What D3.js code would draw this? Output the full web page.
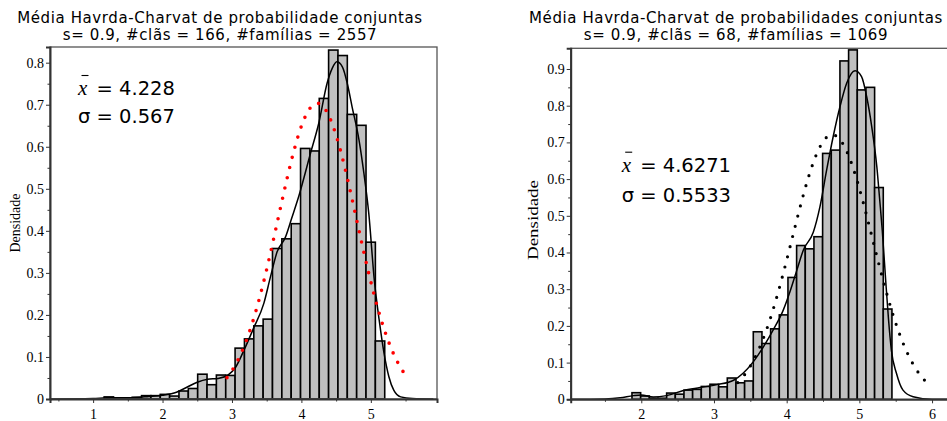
<!DOCTYPE html>
<html><head><meta charset="utf-8">
<script src="https://cdn.jsdelivr.net/npm/d3@7"></script>
<style>
  body { margin: 0; background: #fff; }
  svg { display: block; }
</style>
</head>
<body>
<svg id="fig" width="947" height="421"></svg>
<script>
// ---- Left panel: 166 clans, 2557 families ----
const leftTitle = ["Média Havrda-Charvat de probabilidade conjuntas",
                   "s= 0.9, #clãs = 166, #famílias = 2557"];
const leftBinStart = 1.159;
const leftBinWidth = 0.1347;
const leftDensities = [0.005, 0.002, 0.002, 0.004, 0.008, 0.008, 0.011, 0.007, 0.019, 0.025,
                       0.059, 0.034, 0.057, 0.056, 0.121, 0.143, 0.174, 0.190, 0.358, 0.381,
                       0.417, 0.596, 0.590, 0.715, 0.830, 0.817, 0.677, 0.651, 0.373, 0.138];
// kernel density estimate (value, density)
const leftKdeX = [0.38, 1.0, 1.2, 1.5, 1.8, 2.0, 2.2, 2.35, 2.5, 2.65, 2.8, 2.95, 3.05, 3.17, 3.31,
                  3.46, 3.555, 3.65, 3.77, 3.86, 3.96, 4.13, 4.25, 4.37, 4.445, 4.51, 4.59, 4.66,
                  4.73, 4.83, 4.90, 4.97, 5.05, 5.12, 5.19, 5.26, 5.33, 5.43, 5.6, 5.9];
const leftKdeY = [0.0, 0.001, 0.003, 0.003, 0.006, 0.009, 0.016, 0.028, 0.040, 0.047, 0.049, 0.058,
                  0.075, 0.115, 0.168, 0.228, 0.291, 0.350, 0.385, 0.430, 0.481, 0.584, 0.656, 0.751,
                  0.787, 0.802, 0.790, 0.751, 0.695, 0.616, 0.537, 0.442, 0.283, 0.188, 0.109, 0.053,
                  0.021, 0.005, 0.001, 0.0];
const leftMean = 4.228;
const leftSigma = 0.567;
const leftXTicks = [1, 2, 3, 4, 5];
const leftXMinor = [0.5, 1.5, 2.5, 3.5, 4.5, 5.5];
const leftYTicks = [0, 0.1, 0.2, 0.3, 0.4, 0.5, 0.6, 0.7, 0.8];
const leftYMinor = [0.05, 0.15, 0.25, 0.35, 0.45, 0.55, 0.65, 0.75];

// ---- Right panel: 68 clans, 1069 families ----
const rightTitle = ["Média Havrda-Charvat de probabilidades conjuntas",
                    "s= 0.9, #clãs = 68, #famílias = 1069"];
const rightBinStart = 1.872;
const rightBinWidth = 0.1192;
const rightDensities = [0.018, 0.009, 0.003, 0.003, 0.017, 0.014, 0.025, 0.027, 0.035, 0.041,
                        0.034, 0.058, 0.045, 0.050, 0.184, 0.152, 0.192, 0.230, 0.332, 0.419,
                        0.410, 0.443, 0.670, 0.679, 0.922, 0.952, 0.843, 0.850, 0.577, 0.246];
const rightKdeX = [1.03, 1.5, 1.71, 1.89, 2.0, 2.165, 2.35, 2.58, 2.81, 3.04, 3.27, 3.40, 3.54, 3.68,
                   3.815, 3.953, 4.045, 4.14, 4.23, 4.366, 4.458, 4.55, 4.64, 4.733, 4.825, 4.94,
                   5.03, 5.10, 5.17, 5.24, 5.28, 5.315, 5.36, 5.40, 5.44, 5.51, 5.60, 5.74, 6.0, 6.22];
const rightKdeY = [0.0, 0.001, 0.004, 0.010, 0.012, 0.006, 0.010, 0.024, 0.032, 0.040, 0.052, 0.071,
                   0.102, 0.143, 0.189, 0.243, 0.293, 0.352, 0.407, 0.455, 0.525, 0.625, 0.716,
                   0.797, 0.861, 0.895, 0.879, 0.825, 0.743, 0.634, 0.543, 0.460, 0.330, 0.220,
                   0.134, 0.071, 0.025, 0.007, 0.0, 0.0];
const rightMean = 4.6271;
const rightSigma = 0.5533;
const rightXTicks = [2, 3, 4, 5, 6];
const rightXMinor = [1.5, 2.5, 3.5, 4.5, 5.5];
const rightYTicks = [0, 0.1, 0.2, 0.3, 0.4, 0.5, 0.6, 0.7, 0.8, 0.9];
const rightYMinor = [0.05, 0.15, 0.25, 0.35, 0.45, 0.55, 0.65, 0.75, 0.85];

const svg = d3.select("#fig");

function drawPanel(cfg) {
  const g = svg.append("g");
  const x = d3.scaleLinear().domain(cfg.xDomain).range([cfg.left, cfg.right]);
  const y = d3.scaleLinear().domain(cfg.yDomain).range([cfg.bottom, cfg.top]);

  // two-line title
  [22.5, 40].forEach((ty, i) => {
    g.append("text").attr("x", cfg.titleX).attr("y", ty)
      .attr("text-anchor", "middle").attr("font-family", "DejaVu Sans")
      .attr("font-size", 15).attr("letter-spacing", 0.6).text(cfg.title[i]);
  });

  // clip region for the plot content
  const clipId = "clip" + cfg.id;
  svg.append("clipPath").attr("id", clipId).append("rect")
    .attr("x", cfg.left).attr("y", cfg.top)
    .attr("width", cfg.right - cfg.left).attr("height", cfg.bottom - cfg.top);
  const plot = g.append("g").attr("clip-path", `url(#${clipId})`);

  // histogram bars
  const bins = cfg.densities.map((d, i) => ({
    x0: cfg.binStart + i * cfg.binWidth,
    x1: cfg.binStart + (i + 1) * cfg.binWidth,
    v: d
  }));
  plot.selectAll("rect.bar").data(bins).join("rect")
    .attr("class", "bar")
    .attr("x", d => x(d.x0)).attr("width", d => x(d.x1) - x(d.x0))
    .attr("y", d => y(d.v)).attr("height", d => y(0) - y(d.v))
    .attr("fill", "#c0c0c0").attr("stroke", "#000").attr("stroke-width", 1.6);

  // kernel density curve
  const kde = cfg.kdeX.map((v, i) => [v, cfg.kdeY[i]]);
  plot.append("path").datum(kde)
    .attr("d", d3.line().x(d => x(d[0])).y(d => y(d[1])).curve(d3.curveMonotoneX))
    .attr("fill", "none").attr("stroke", "#000").attr("stroke-width", 1.5);

  // fitted normal density from the stated mean and standard deviation
  const m = cfg.mean, s = cfg.sigma;
  const pdf = v => Math.exp(-0.5 * ((v - m) / s) ** 2) / (s * Math.sqrt(2 * Math.PI));
  const nx = d3.range(0, 201).map(k => (m - 1.3) + k * 2.6 / 200);
  plot.append("path").datum(nx)
    .attr("d", d3.line().x(v => x(v)).y(v => y(pdf(v))))
    .attr("fill", "none").attr("stroke", cfg.normalColor)
    .attr("stroke-width", cfg.dotSize).attr("stroke-linecap", "round")
    .attr("stroke-dasharray", "0 10.5");

  // frame
  g.append("rect").attr("x", cfg.left).attr("y", cfg.top)
    .attr("width", cfg.right - cfg.left).attr("height", cfg.bottom - cfg.top)
    .attr("fill", "none").attr("stroke", "#555").attr("stroke-width", 1.3);

  // y axis
  const yAxis = g.append("g").attr("transform", `translate(${cfg.left},0)`)
    .call(d3.axisLeft(y).tickValues(cfg.yTicks).tickSize(4).tickPadding(2)
      .tickFormat(d => d === 0 ? "0" : d3.format(".1f")(d)));
  g.append("g").attr("transform", `translate(${cfg.left},0)`)
    .call(d3.axisLeft(y).tickValues(cfg.yMinor).tickSize(2.5).tickFormat(""))
    .select(".domain").remove();
  // x axis
  const xAxis = g.append("g").attr("transform", `translate(0,${cfg.bottom})`)
    .call(d3.axisBottom(x).tickValues(cfg.xTicks).tickSize(4).tickPadding(6)
      .tickFormat(d3.format("d")));
  g.append("g").attr("transform", `translate(0,${cfg.bottom})`)
    .call(d3.axisBottom(x).tickValues(cfg.xMinor).tickSize(2.5).tickFormat(""))
    .select(".domain").remove();
  [yAxis, xAxis].forEach(a => {
    a.select(".domain").attr("stroke", "#333").attr("stroke-width", 2);
    a.selectAll(".tick text").attr("font-family", "Liberation Serif")
      .attr("font-size", 14).attr("fill", "#000");
  });
  g.selectAll(".tick line").attr("stroke", "#333").attr("stroke-width", 1);

  // y label
  const yl = g.append("text")
    .attr("transform", `translate(${cfg.yLabelX},${cfg.yLabelY}) rotate(-90)`)
    .attr("text-anchor", "middle").attr("font-family", "Liberation Serif")
    .attr("font-size", cfg.yLabelSize).text("Densidade");
  if (cfg.yLabelLength) {
    yl.attr("textLength", cfg.yLabelLength).attr("lengthAdjust", "spacingAndGlyphs");
  }

  // mean / sd annotation
  const a = cfg.ann;
  g.append("text").attr("x", a.x).attr("y", a.y1)
    .attr("font-family", "Liberation Serif").attr("font-style", "italic")
    .attr("font-size", 21).text("x");
  g.append("line").attr("x1", a.x + 3.5).attr("x2", a.x + 10.5)
    .attr("y1", a.y1 - 19.5).attr("y2", a.y1 - 19.5)
    .attr("stroke", "#000").attr("stroke-width", 1.1);
  g.append("text").attr("x", a.x + 18.5).attr("y", a.y1)
    .attr("font-family", "DejaVu Sans").attr("font-size", 19.5)
    .text("= " + a.meanText);
  g.append("text").attr("x", a.x).attr("y", a.y2)
    .attr("font-family", "DejaVu Sans").attr("font-size", 19.5)
    .text("σ = " + a.sdText);
}

drawPanel({
  id: "L", title: leftTitle, titleX: 220,
  left: 50, right: 437, top: 47, bottom: 399,
  xDomain: [0.379, 5.953], yDomain: [0, 0.8373],
  binStart: leftBinStart, binWidth: leftBinWidth, densities: leftDensities,
  kdeX: leftKdeX, kdeY: leftKdeY, mean: leftMean, sigma: leftSigma,
  normalColor: "#ff0000", dotSize: 3.6,
  xTicks: leftXTicks, xMinor: leftXMinor, yTicks: leftYTicks, yMinor: leftYMinor,
  yLabelX: 20, yLabelY: 223, yLabelSize: 14,
  ann: { x: 78, y1: 95, y2: 123.3, meanText: "4.228", sdText: "0.567" }
});

drawPanel({
  id: "R", title: rightTitle, titleX: 736,
  left: 570.7, right: 949, top: 48.3, bottom: 399.3,
  xDomain: [1.029, 6.233], yDomain: [0, 0.9564],
  binStart: rightBinStart, binWidth: rightBinWidth, densities: rightDensities,
  kdeX: rightKdeX, kdeY: rightKdeY, mean: rightMean, sigma: rightSigma,
  normalColor: "#000", dotSize: 3.2,
  xTicks: rightXTicks, xMinor: rightXMinor, yTicks: rightYTicks, yMinor: rightYMinor,
  yLabelX: 538, yLabelY: 220, yLabelSize: 15, yLabelLength: 80,
  ann: { x: 621.7, y1: 171.7, y2: 201.7, meanText: "4.6271", sdText: "0.5533" }
});
</script>
</body></html>
